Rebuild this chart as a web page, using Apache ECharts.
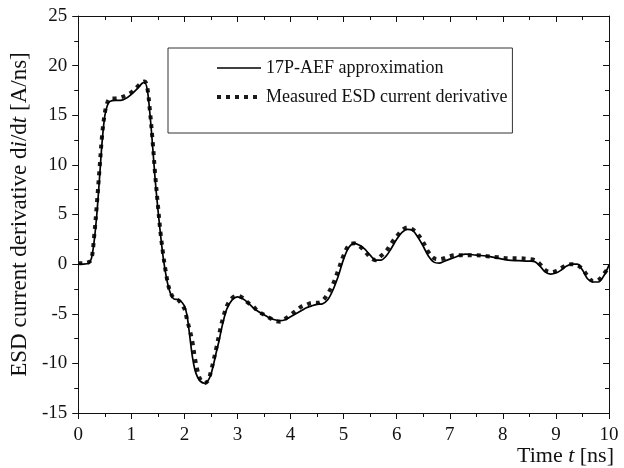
<!DOCTYPE html>
<html>
<head>
<meta charset="utf-8">
<script src="https://cdn.jsdelivr.net/npm/echarts@6/dist/echarts.min.js"></script>
<style>
  html, body { margin: 0; padding: 0; background: #fff; }
  #chart { width: 624px; height: 468px; }
</style>
</head>
<body>
<div id="chart"></div>
<script>
// Sample times [ns]
const timeNs = [
  0.0, 0.1, 0.2, 0.25, 0.3, 0.35, 0.4, 0.45, 0.5, 0.55, 0.6, 0.7, 0.8, 0.9, 1.0, 1.1, 1.2, 1.25,
  1.3, 1.35, 1.4, 1.45, 1.5, 1.55, 1.6, 1.65, 1.7, 1.75, 1.8, 1.9, 2.0, 2.05, 2.1, 2.15, 2.2, 2.25,
  2.3, 2.38, 2.45, 2.5, 2.55, 2.6, 2.65, 2.7, 2.75, 2.8, 2.9, 3.0, 3.1, 3.2, 3.3, 3.4, 3.5, 3.6,
  3.7, 3.8, 3.9, 4.0, 4.1, 4.2, 4.3, 4.4, 4.5, 4.6, 4.7, 4.8, 4.9, 5.0, 5.1, 5.2, 5.3, 5.4, 5.5,
  5.6, 5.7, 5.8, 5.9, 6.0, 6.1, 6.2, 6.3, 6.4, 6.5, 6.6, 6.7, 6.8, 6.9, 7.0, 7.1, 7.2, 7.3, 7.5,
  7.7, 7.9, 8.1, 8.3, 8.5, 8.6, 8.7, 8.8, 8.9, 9.0, 9.1, 9.2, 9.3, 9.4, 9.5, 9.6, 9.7, 9.8, 9.9, 10.0
];

// 17P-AEF approximation of di/dt [A/ns]
const aefApprox = [
  0.0, 0.0, 0.1, 0.6, 2.3, 5.0, 8.6, 12.3, 14.9, 16.0, 16.4, 16.5, 16.5, 16.7, 17.1, 17.6, 18.2, 18.3,
  17.6, 15.2, 12.0, 8.5, 5.6, 3.0, 0.7, -1.0, -2.3, -3.1, -3.5, -3.6, -4.2, -5.2, -7.2, -9.3, -10.7, -11.4,
  -11.8, -12.0, -11.7, -11.1, -10.1, -8.9, -7.8, -6.5, -5.4, -4.5, -3.6, -3.3, -3.5, -3.9, -4.4, -4.8, -5.1, -5.4,
  -5.6, -5.7, -5.6, -5.3, -5.0, -4.7, -4.4, -4.2, -4.05, -4.0, -3.6, -2.6, -1.2, 0.5, 1.7, 2.1, 1.9, 1.5, 0.9,
  0.4, 0.4, 0.8, 1.6, 2.5, 3.2, 3.5, 3.4, 2.7, 1.8, 0.8, 0.2, 0.1, 0.3, 0.5, 0.7, 0.9, 1.0, 0.9,
  0.8, 0.6, 0.4, 0.35, 0.3, 0.25, -0.2, -0.8, -1.0, -0.9, -0.6, -0.2, 0.0, 0.0, -0.6, -1.5, -1.8, -1.8, -1.2, -0.1
];

// Measured ESD current derivative [A/ns]
const measured = [
  0.1, 0.1, 0.2, 0.5, 2.8, 6.0, 9.5, 13.0, 15.2, 16.3, 16.7, 16.7, 16.8, 17.0, 17.3, 17.8, 18.3, 18.4,
  17.8, 15.5, 12.5, 9.0, 6.0, 3.2, 1.0, -0.8, -2.2, -3.0, -3.4, -3.7, -4.5, -5.6, -6.6, -7.8, -9.5, -10.8,
  -11.6, -12.0, -11.7, -10.8, -9.7, -8.5, -7.2, -6.0, -5.0, -4.2, -3.4, -3.2, -3.4, -3.9, -4.3, -4.8, -5.1, -5.4,
  -5.7, -5.8, -5.5, -5.1, -4.7, -4.3, -4.1, -3.9, -3.9, -3.7, -3.0, -2.0, -0.6, 0.9, 1.9, 2.1, 1.8, 1.3, 0.7,
  0.4, 0.8, 1.3, 2.1, 2.8, 3.4, 3.7, 3.5, 3.0, 2.2, 1.2, 0.6, 0.5, 0.6, 0.8, 0.9, 0.9, 0.9, 0.9,
  0.8, 0.7, 0.6, 0.6, 0.5, 0.4, 0.0, -0.6, -0.8, -0.7, -0.4, -0.1, 0.0, -0.1, -0.5, -1.2, -1.7, -1.6, -1.0, -0.3
];

// Axis tick values
const xTicks = [0, 1, 2, 3, 4, 5, 6, 7, 8, 9, 10];
const yTicks = [-15, -10, -5, 0, 5, 10, 15, 20, 25];

const seriesNames = ['17P-AEF approximation', 'Measured ESD current derivative'];

const FONT = '"Liberation Serif", "DejaVu Serif", serif';
const INK = '#111';

const zip = (xs, ys) => xs.map((x, i) => [x, ys[i]]);

const chart = echarts.init(document.getElementById('chart'), null, { renderer: 'canvas' });

const frameLine = { show: true, onZero: false, lineStyle: { color: INK, width: 1 } };
const tickStyle = { color: INK, width: 1 };

const approxLine = { color: '#000', width: 1.7 };
const measuredLine = { color: '#1a1a1a', width: 4, type: [4, 5], cap: 'butt' };

chart.setOption({
  backgroundColor: '#fff',
  animation: false,
  textStyle: { fontFamily: FONT, color: INK },
  grid: { left: 72, right: 15, top: 16, bottom: 55, containLabel: false },
  legend: {
    orient: 'vertical',
    left: 168,
    top: 48,
    data: [
      { name: seriesNames[0], lineStyle: { width: 1.4 } },
      { name: seriesNames[1], lineStyle: { width: 4, type: [4, 5], cap: 'butt' } }
    ],
    itemWidth: 44,
    itemHeight: 22,
    itemGap: 7,
    padding: [9, 5, 25, 47],
    borderColor: '#333',
    borderWidth: 1,
    itemStyle: { opacity: 0 },
    textStyle: { fontFamily: FONT, fontSize: 18, color: INK, lineHeight: 22 }
  },
  xAxis: [
    {
      type: 'value',
      position: 'bottom',
      min: xTicks[0],
      max: xTicks[xTicks.length - 1],
      interval: 1,
      axisLine: frameLine,
      axisTick: { show: true, inside: false, length: 6, lineStyle: tickStyle },
      minorTick: { show: true, splitNumber: 2, length: 4, lineStyle: tickStyle },
      axisLabel: { fontFamily: FONT, fontSize: 19, color: INK, margin: 13 },
      splitLine: { show: false },
      name: '{n|Time }{i|t}{n| [ns]}',
      nameLocation: 'end',
      nameGap: 5,
      nameTextStyle: {
        align: 'right',
        verticalAlign: 'top',
        padding: [32, 0, 0, 0],
        rich: {
          n: { fontFamily: FONT, fontSize: 22, color: INK },
          i: { fontFamily: FONT, fontSize: 22, color: INK, fontStyle: 'italic' }
        }
      }
    },
    {
      type: 'value',
      position: 'top',
      min: xTicks[0],
      max: xTicks[xTicks.length - 1],
      interval: 1,
      axisLine: frameLine,
      axisTick: { show: true, inside: true, length: 6, lineStyle: tickStyle },
      minorTick: { show: true, splitNumber: 2, length: 4, lineStyle: tickStyle },
      axisLabel: { show: false },
      splitLine: { show: false }
    }
  ],
  yAxis: [
    {
      type: 'value',
      position: 'left',
      min: yTicks[0],
      max: yTicks[yTicks.length - 1],
      interval: 5,
      axisLine: frameLine,
      axisTick: { show: true, inside: false, length: 6, lineStyle: tickStyle },
      minorTick: { show: true, splitNumber: 2, length: 4, lineStyle: tickStyle },
      axisLabel: { fontFamily: FONT, fontSize: 19, color: INK, margin: 11 },
      splitLine: { show: false },
      name: '{n|ESD current derivative d}{i|i}{n|/d}{i|t}{n| [A/ns]}',
      nameLocation: 'middle',
      nameGap: 40,
      nameTextStyle: {
        rich: {
          n: { fontFamily: FONT, fontSize: 23, color: INK },
          i: { fontFamily: FONT, fontSize: 23, color: INK, fontStyle: 'italic' }
        }
      }
    },
    {
      type: 'value',
      position: 'right',
      min: yTicks[0],
      max: yTicks[yTicks.length - 1],
      interval: 5,
      axisLine: frameLine,
      axisTick: { show: true, inside: true, length: 6, lineStyle: tickStyle },
      minorTick: { show: true, splitNumber: 2, length: 4, lineStyle: tickStyle },
      axisLabel: { show: false },
      splitLine: { show: false }
    }
  ],
  series: [
    {
      name: seriesNames[1],
      type: 'line',
      data: zip(timeNs, measured),
      smooth: 0.35,
      showSymbol: false,
      symbol: 'none',
      z: 2,
      lineStyle: measuredLine,
      itemStyle: { color: measuredLine.color }
    },
    {
      name: seriesNames[0],
      type: 'line',
      data: zip(timeNs, aefApprox),
      smooth: 0.35,
      showSymbol: false,
      symbol: 'none',
      z: 3,
      lineStyle: approxLine,
      itemStyle: { color: approxLine.color }
    }
  ]
});
</script>
</body>
</html>
